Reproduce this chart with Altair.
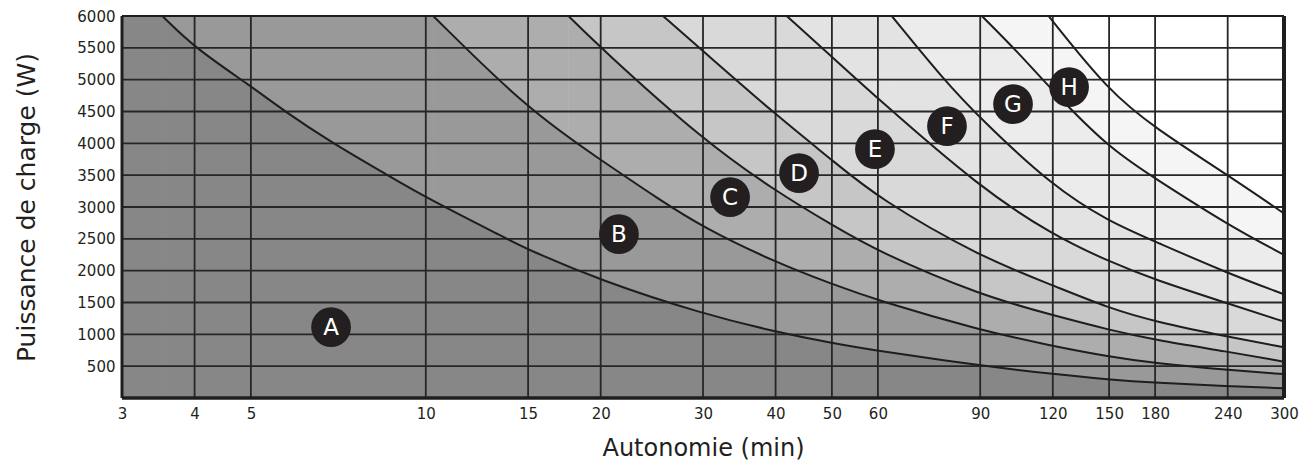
import altair as alt
import pandas as pd

# ---- data ----
x_ticks = [3, 4, 5, 10, 15, 20, 30, 40, 50, 60, 90, 120, 150, 180, 240, 300]
y_ticks = [500, 1000, 1500, 2000, 2500, 3000, 3500, 4000, 4500, 5000, 5500, 6000]
y_min, y_max = 0, 6000

c1_t = [3.52, 4, 5, 5.72, 6.92, 8.6, 10, 13.8, 15, 20, 30, 40, 50, 60, 90, 120, 150, 180, 240, 300]
c1_p = [6000, 5500, 4900, 4500, 4000, 3500, 3150, 2500, 2330, 1845, 1320, 1040, 865, 740, 510, 375, 290, 240, 186, 152]
c2_t = [10.3, 15, 20, 25.3, 30, 40, 50, 60, 90, 120, 150, 180, 240, 300]
c2_p = [6000, 4525, 3740, 3110, 2680, 2130, 1790, 1530, 1065, 815, 650, 545, 440, 375]
c3_t = [17.6, 20, 30, 40, 50, 60, 90, 120, 150, 180, 240, 300]
c3_p = [6000, 5500, 4050, 3250, 2720, 2300, 1615, 1300, 1070, 911, 728, 571]
c4_t = [25.6, 30, 40, 50, 60, 90, 120, 150, 180, 240, 300]
c4_p = [6000, 5450, 4450, 3740, 3140, 2217, 1770, 1410, 1199, 963, 795]
c5_t = [41.8, 50, 60, 90, 120, 150, 180, 240, 300]
c5_p = [6000, 5360, 4700, 3300, 2560, 2143, 1855, 1487, 1199]
c6_t = [63.4, 77.8, 90, 120, 150, 180, 240, 300]
c6_p = [6000, 5005, 4392, 3320, 2770, 2457, 1960, 1629]
c7_t = [90.6, 105, 118.6, 150, 180, 240, 300]
c7_p = [6000, 5413, 4870, 3920, 3449, 2720, 2248]
c8_t = [118, 150, 180, 240, 300]
c8_p = [6000, 4810, 4240, 3500, 2900]

curves_t = [c1_t, c2_t, c3_t, c4_t, c5_t, c6_t, c7_t, c8_t]
curves_p = [c1_p, c2_p, c3_p, c4_p, c5_p, c6_p, c7_p, c8_p]
region_colors = ["#878787", "#999999", "#adadad", "#c6c6c6",
                 "#d9d9d9", "#e3e3e3", "#ececec", "#f5f5f5"]

labels = ["A", "B", "C", "D", "E", "F", "G", "H"]
label_t = [6.87, 21.5, 33.4, 43.9, 59.3, 78.9, 102.5, 128]
label_p = [1112, 2573, 3155, 3532, 3909, 4270, 4616, 4883]

# ---- scales / axes ----
xscale = alt.Scale(type="log", domain=[x_ticks[0], x_ticks[-1]], nice=False)
yscale = alt.Scale(domain=[y_min, y_max], nice=False, zero=False)
xaxis = alt.Axis(values=x_ticks, title="Autonomie (min)", grid=False, ticks=False,
                 domain=False, labelFlush=False, labelOverlap=False, labelPadding=8,
                 titlePadding=15, titleFontSize=24, format="d")
yaxis = alt.Axis(values=y_ticks, title="Puissance de charge (W)", grid=False, ticks=False,
                 domain=False, labelPadding=7, titlePadding=37, titleFontSize=25, format="d")

INTERP = "basis"


def X(f):
    return alt.X(f, type="quantitative", scale=xscale, axis=xaxis)


def Y(f):
    return alt.Y(f, type="quantitative", scale=yscale, axis=yaxis, stack=None)


layers = []
# shaded regions: from the outermost (lightest) to the innermost (darkest)
for i in reversed(range(8)):
    ts, ps = curves_t[i], curves_p[i]
    rect_df = pd.DataFrame({"t0": [x_ticks[0]], "t1": [ts[0]], "p0": [y_min], "p1": [y_max]})
    layers.append(alt.Chart(rect_df).mark_rect(color=region_colors[i], strokeWidth=0).encode(
        x=X("t0"), x2="t1", y=Y("p0"), y2="p1"))
    area_df = pd.DataFrame({"t": ts, "p": ps})
    layers.append(alt.Chart(area_df).mark_area(color=region_colors[i], interpolate=INTERP,
                                               clip=True).encode(x=X("t"), y=Y("p")))

# grid
vgrid = pd.DataFrame({"t": x_ticks, "p0": y_min, "p1": y_max})
hgrid = pd.DataFrame({"p": y_ticks, "t0": x_ticks[0], "t1": x_ticks[-1]})
layers.append(alt.Chart(vgrid).mark_rule(color="#262626", strokeWidth=1.8).encode(
    x=X("t"), y=Y("p0"), y2="p1"))
layers.append(alt.Chart(hgrid).mark_rule(color="#262626", strokeWidth=1.8).encode(
    y=Y("p"), x=X("t0"), x2="t1"))

# curves
rows = []
for i in range(8):
    for t, p in zip(curves_t[i], curves_p[i]):
        rows.append({"curve": i, "t": t, "p": p})
curve_df = pd.DataFrame(rows)
layers.append(alt.Chart(curve_df).mark_line(color="#1e1e1e", strokeWidth=2, interpolate=INTERP,
                                            clip=True).encode(x=X("t"), y=Y("p"), detail="curve:N"))

# frame
frame_v = pd.DataFrame({"t": [x_ticks[0], x_ticks[-1]], "p0": y_min, "p1": y_max, "w": [3, 4]})
frame_h = pd.DataFrame({"p": [y_min, y_max], "t0": x_ticks[0], "t1": x_ticks[-1], "w": [3.5, 2]})
layers.append(alt.Chart(frame_v).mark_rule(color="#1e1e1e").encode(
    x=X("t"), y=Y("p0"), y2="p1",
    strokeWidth=alt.StrokeWidth("w:Q", scale=None, legend=None)))
layers.append(alt.Chart(frame_h).mark_rule(color="#1e1e1e").encode(
    y=Y("p"), x=X("t0"), x2="t1",
    strokeWidth=alt.StrokeWidth("w:Q", scale=None, legend=None)))

# labels
lab_df = pd.DataFrame({"label": labels, "t": label_t, "p": label_p})
layers.append(alt.Chart(lab_df).mark_point(shape="circle", filled=True, size=1580, opacity=1,
                                           color="#231f20").encode(x=X("t"), y=Y("p")))
layers.append(alt.Chart(lab_df).mark_text(color="white", fontSize=23, font="DejaVu Sans",
                                          baseline="middle", align="center", dy=1).encode(
    x=X("t"), y=Y("p"), text="label"))

chart = alt.layer(*layers).properties(
    width=1162, height=382,
    autosize=alt.AutoSizeParams(type="none"),
    padding={"left": 114, "top": 8, "right": 19, "bottom": 66},
).configure_view(stroke=None).configure_axis(
    labelFont="DejaVu Sans", labelFontSize=15, labelColor="#231f20",
    titleFont="DejaVu Sans", titleFontWeight="normal", titleColor="#231f20",
)

chart.save("out.html", embed_options={"renderer": "svg", "actions": False})
